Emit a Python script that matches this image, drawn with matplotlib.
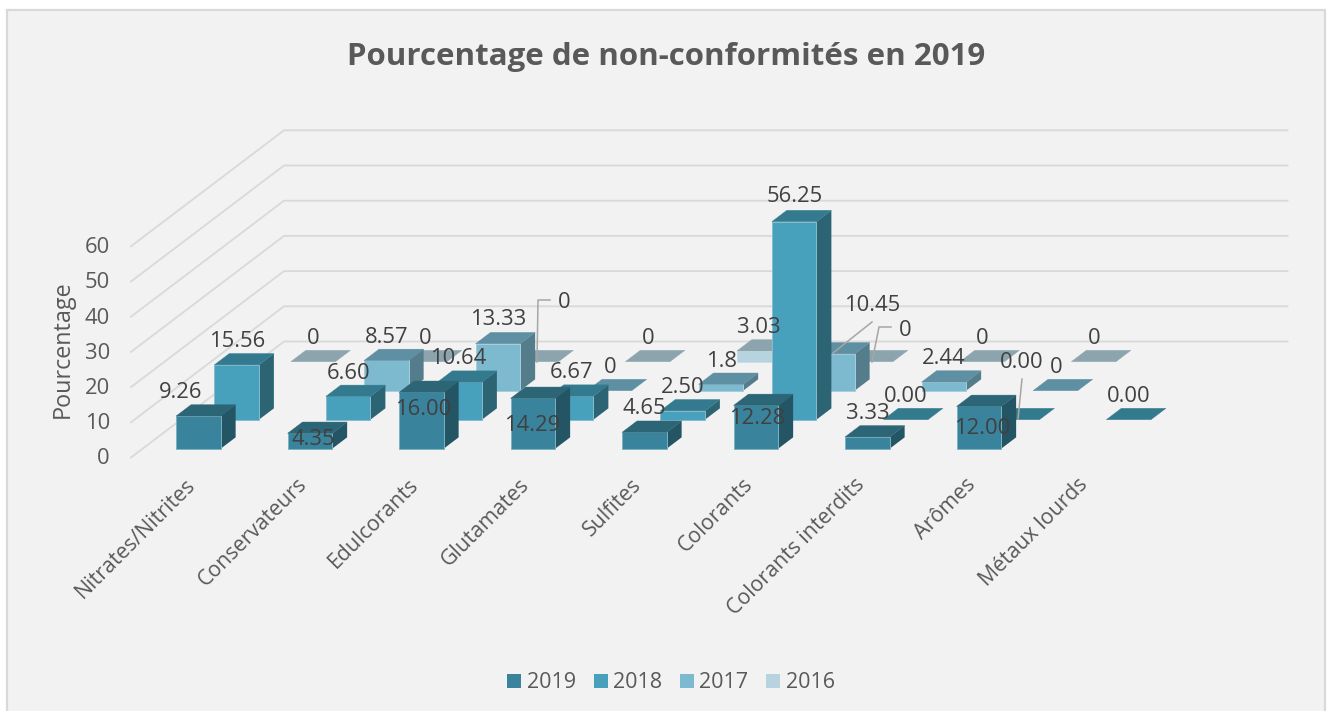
import matplotlib
matplotlib.use("Agg")
import matplotlib.pyplot as plt
from matplotlib.patches import Polygon, Rectangle, Patch

plt.rcParams['font.family'] = ['Open Sans', 'DejaVu Sans']

categories = ["Nitrates/Nitrites", "Conservateurs", "Edulcorants", "Glutamates", "Sulfites",
              "Colorants", "Colorants interdits", "Arômes", "Métaux lourds"]
years = ["2019", "2018", "2017", "2016"]
v2019 = [9.26, 4.35, 16.00, 14.29, 4.65, 12.28, 3.33, 12.00, None]
v2018 = [15.56, 6.60, 10.64, 6.67, 2.50, 56.25, 0.00, 0.00, 0.00]
v2017 = [None, 8.57, 13.33, 0, 1.8, 10.45, 2.44, 0, None]
v2016 = [0, 0, 0, 0, 3.03, 0, 0, 0, None]
labels2019 = ["9.26", "4.35", "16.00", "14.29", "4.65", "12.28", "3.33", "12.00", None]
labels2018 = ["15.56", "6.60", "10.64", "6.67", "2.50", "56.25", "0.00", "0.00", "0.00"]
labels2017 = [None, "8.57", "13.33", "0", "1.8", "10.45", "2.44", "0", None]
labels2016 = ["0", "0", "0", "0", "3.03", "0", "0", "0", None]
yticks = [0, 10, 20, 30, 40, 50, 60]

series = [v2019, v2018, v2017, v2016]
series_labels = [labels2019, labels2018, labels2017, labels2016]

# Oblique projection of the 3-D chart box (category, depth slot, value) on the picture
X0, Y0 = 131.0, 457.5
CAT_W = 111.5
DEPTH_X, DEPTH_Y = 153.0 / 4, 116.0 / 4
PX_PER_UNIT = 3.52


def project(c, s, v):
    return (X0 + CAT_W * c + DEPTH_X * s, Y0 - PX_PER_UNIT * v - DEPTH_Y * s)


front_col = ["#3A839C", "#48A1BC", "#7DBAD0", "#B6D3DF"]
top_col = ["#2B6576", "#347A8E", "#5E8FA2", "#8CA4AE"]
side_col = ["#245565", "#2C6473", "#557C8B", "#7A929C"]
edge_col = ["#7DB2C2", "#86BCCD", "#A5CFDD", "#C9DFE7"]
TXT = "#404040"
AX_TXT = "#595959"
GRID = "#D9D9D9"

fig = plt.figure(figsize=(13.31, 7.11), dpi=100, facecolor="white")
ax = fig.add_axes([0, 0, 1, 1])
ax.set_xlim(0, 1331)
ax.set_ylim(711, 0)
ax.axis("off")

ax.add_patch(Rectangle((7, 10), 1318, 720, facecolor="#F2F2F2", edgecolor=GRID, lw=1.6, zorder=0))

# grid lines: side wall then back wall
for t in yticks:
    pts = [project(0, 0, t), project(0, 4, t), project(9, 4, t)]
    ax.plot(*zip(*pts), color=GRID, lw=1.3, zorder=1, solid_joinstyle="miter")
    x, y = project(0, 0, t)
    ax.text(110, y + 1.5, str(t), ha="right", va="center", fontsize=15.8, color=AX_TXT)

ax.text(63, 349, "Pourcentage", rotation=90, ha="center", va="center", fontsize=16.8, color=AX_TXT)

for i, name in enumerate(categories):
    x, y = project(i + 0.5, 0, 0)
    ax.text(x - 2, 474, name, rotation=45, rotation_mode="anchor", ha="right", va="top",
            fontsize=15.3, color=AX_TXT)

# bars, back series first
z = 2
BAR_C0, BAR_C1 = 0.3, 0.7
S0, S1 = 0.305, 0.695
for k in (3, 2, 1, 0):
    for i, v in enumerate(series[k]):
        if v is None:
            continue
        c0, c1, s0, s1 = i + BAR_C0, i + BAR_C1, k + S0, k + S1
        side = [project(c1, s0, 0), project(c1, s1, 0), project(c1, s1, v), project(c1, s0, v)]
        top = [project(c0, s0, v), project(c1, s0, v), project(c1, s1, v), project(c0, s1, v)]
        front = [project(c0, s0, 0), project(c1, s0, 0), project(c1, s0, v), project(c0, s0, v)]
        if v > 0:
            ax.add_patch(Polygon(side, facecolor=side_col[k], edgecolor="none", zorder=z))
            ax.add_patch(Polygon(front, facecolor=front_col[k], edgecolor=edge_col[k], lw=0.7, zorder=z))
        ax.add_patch(Polygon(top, facecolor=top_col[k], edgecolor=top_col[k], lw=0.3, zorder=z))
        z += 1

# data labels: hand-placed centres (series index, category index)
label_pos = {
    (0, 0): (181, 391), (0, 1): (313, 438), (0, 2): (423, 408), (0, 3): (532, 424), (0, 4): (644, 407),
    (0, 5): (757, 417), (0, 6): (868, 412), (0, 7): (982, 427),
    (1, 0): (237, 340), (1, 1): (349, 372), (1, 2): (458, 357), (1, 3): (572, 371), (1, 4): (683, 386),
    (1, 5): (795, 195), (1, 6): (906, 395), (1, 7): (1022, 361), (1, 8): (1129, 395),
    (2, 1): (387, 336), (2, 2): (498, 318), (2, 3): (610, 366), (2, 4): (722, 360), (2, 5): (872, 304),
    (2, 6): (944, 357), (2, 7): (1056, 366),
    (3, 0): (313, 337), (3, 1): (425, 337), (3, 2): (564, 301), (3, 3): (648, 337), (3, 4): (759, 326),
    (3, 5): (905, 329), (3, 6): (982, 337), (3, 7): (1094, 337),
}
for (k, i), (x, y) in label_pos.items():
    ax.text(x, y + 1.5, series_labels[k][i], ha="center", va="center", fontsize=15.8, color=TXT, zorder=500)

leaders = [
    [(550, 300), (538, 300), (537, 362)],
    [(872, 322), (833, 353)],
    [(891, 327), (879, 327), (872, 362)],
    [(1022, 379), (1018, 419)],
]
for pts in leaders:
    ax.plot(*zip(*pts), color="#A6A6A6", lw=1.1, zorder=400)

ax.text(666, 57, "Pourcentage de non-conformités en 2019", ha="center", va="center",
        fontsize=22.5, fontweight="bold", color=AX_TXT)

handles = [Patch(facecolor=c, edgecolor="none", label=y) for c, y in zip(front_col, years)]
leg = ax.legend(handles=handles, loc="center", bbox_to_anchor=(671 / 1331, 1 - 683 / 711),
                bbox_transform=fig.transFigure, ncol=4, frameon=False, fontsize=15.5,
                handlelength=0.65, handleheight=0.65, handletextpad=0.26, columnspacing=0.82,
                labelcolor=AX_TXT, borderpad=0)

fig.savefig("out.png", dpi=100, facecolor="white")
